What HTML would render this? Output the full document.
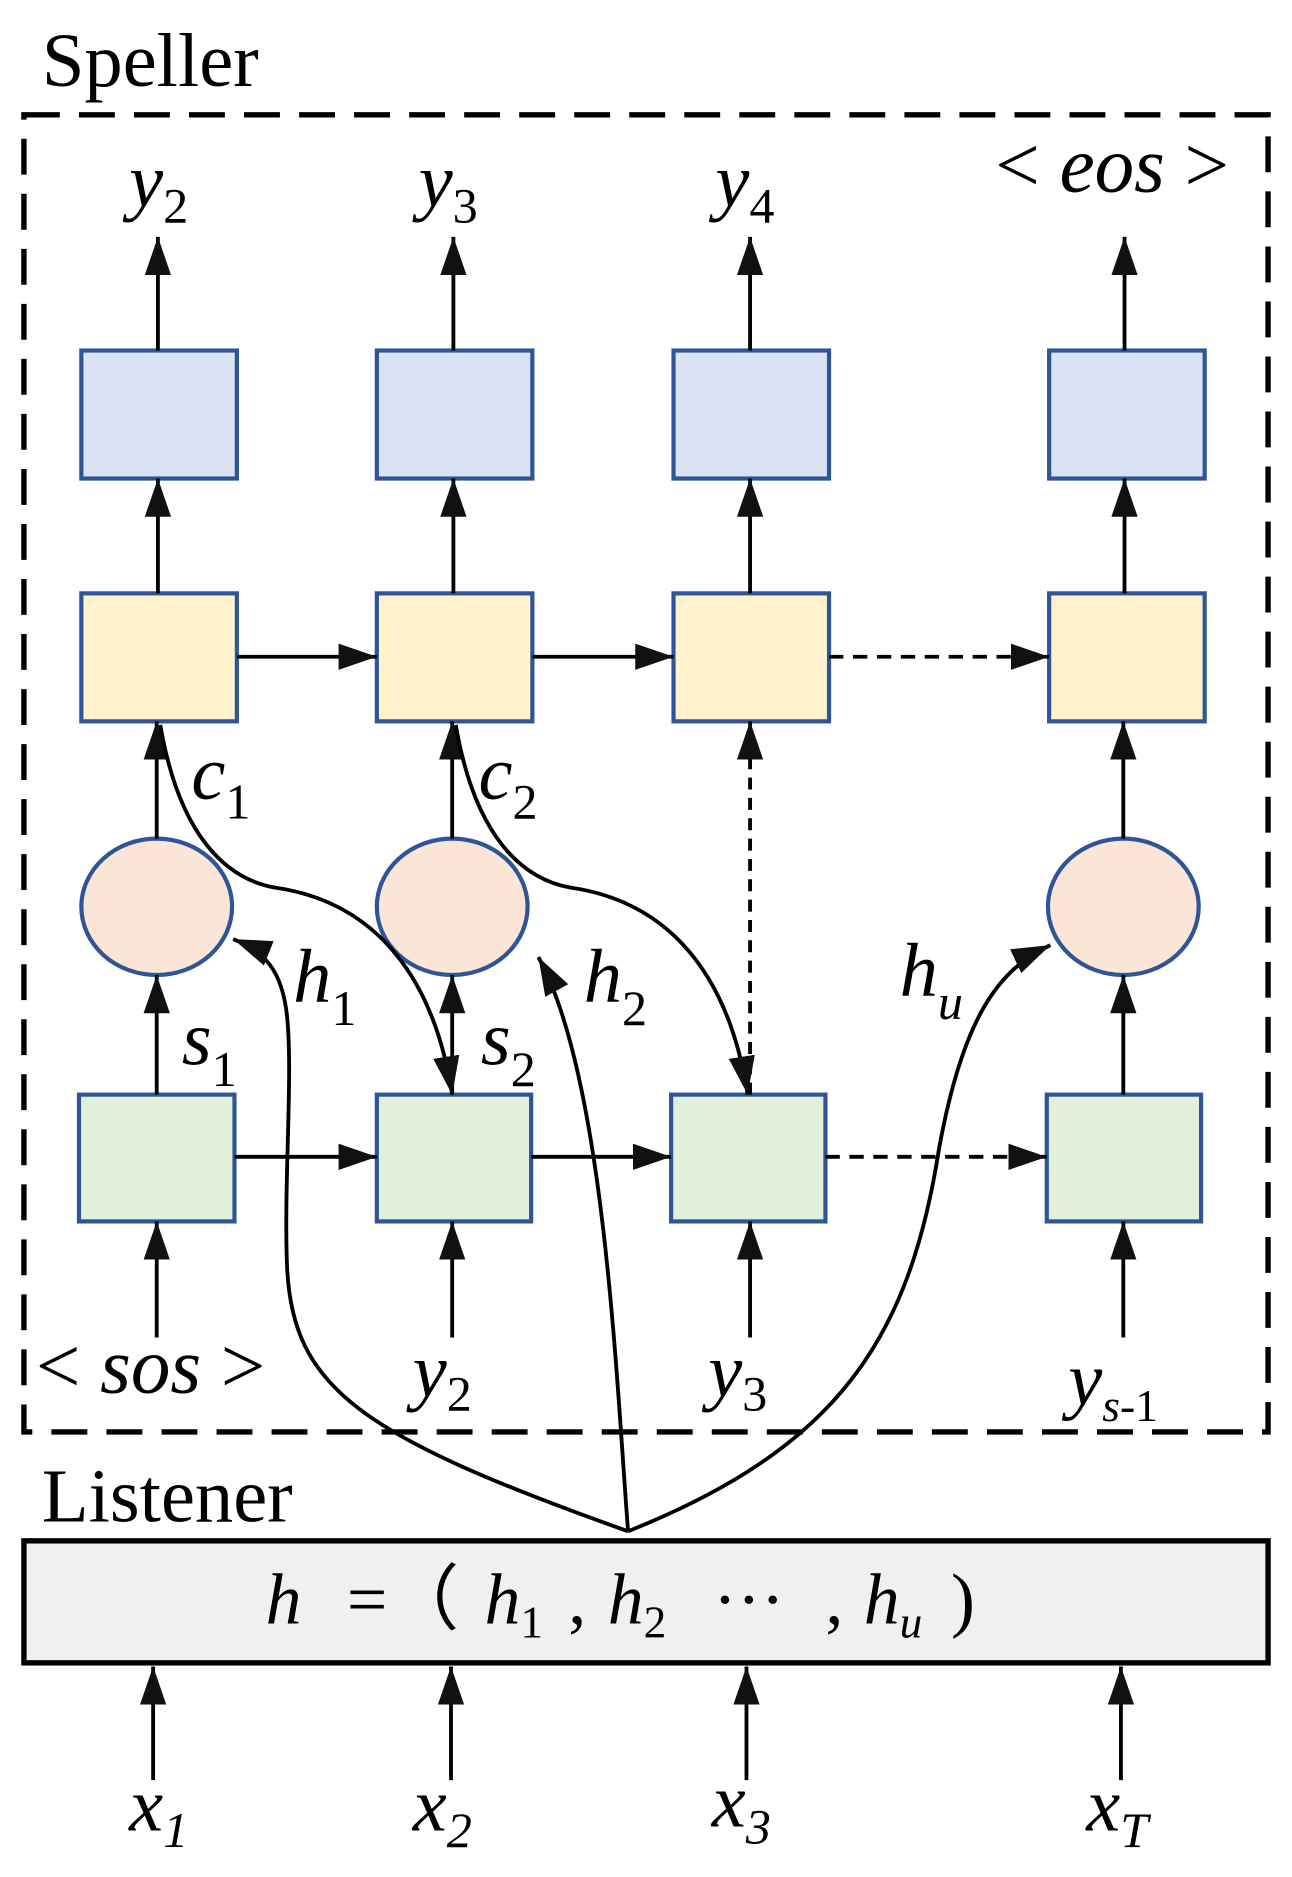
<!DOCTYPE html>
<html><head><meta charset="utf-8"><style>
html,body{margin:0;padding:0;background:#fff;}
svg{display:block;}
text{font-family:"Liberation Serif",serif;fill:#000;}
.m{font-style:italic;}
</style></head><body>
<svg width="1292" height="1877" viewBox="0 0 1080 1569" preserveAspectRatio="none" xmlns="http://www.w3.org/2000/svg">
<defs>
<marker id="a" viewBox="0 0 32 22" refX="32" refY="11" markerWidth="32" markerHeight="22" markerUnits="userSpaceOnUse" orient="auto">
<path d="M0,0 L32,11 L0,22 z" fill="#111"/></marker>
</defs>
<text x="35" y="72" font-size="64">Speller</text>
<rect x="20" y="96" width="1040" height="1101" fill="none" stroke="#000" stroke-width="4.5" stroke-dasharray="30,16"/>
<g stroke="#2f5597" stroke-width="3.5">
<rect x="68" y="293" width="130" height="107" fill="#dae3f3"/>
<rect x="315" y="293" width="130" height="107" fill="#dae3f3"/>
<rect x="563" y="293" width="130" height="107" fill="#dae3f3"/>
<rect x="877" y="293" width="130" height="107" fill="#dae3f3"/>
<rect x="68" y="496" width="130" height="107" fill="#fff2cc"/>
<rect x="315" y="496" width="130" height="107" fill="#fff2cc"/>
<rect x="563" y="496" width="130" height="107" fill="#fff2cc"/>
<rect x="877" y="496" width="130" height="107" fill="#fff2cc"/>
<ellipse cx="131" cy="758" rx="63" ry="57" fill="#fbe5d6"/>
<ellipse cx="378" cy="758" rx="63" ry="57" fill="#fbe5d6"/>
<ellipse cx="939" cy="758" rx="63" ry="57" fill="#fbe5d6"/>
<rect x="66" y="915" width="130" height="106" fill="#e2efda"/>
<rect x="315" y="915" width="129" height="106" fill="#e2efda"/>
<rect x="561" y="915" width="129" height="106" fill="#e2efda"/>
<rect x="875" y="915" width="129" height="106" fill="#e2efda"/>
</g>
<g stroke="#000" stroke-width="3.2" fill="none" marker-end="url(#a)">
<line x1="132" y1="293" x2="132" y2="198"/><line x1="379" y1="293" x2="379" y2="198"/>
<line x1="627" y1="293" x2="627" y2="198"/><line x1="940" y1="293" x2="940" y2="198"/>
<line x1="132" y1="496" x2="132" y2="400"/><line x1="379" y1="496" x2="379" y2="400"/>
<line x1="627" y1="496" x2="627" y2="400"/><line x1="940" y1="496" x2="940" y2="400"/>
<line x1="198" y1="549" x2="315" y2="549"/><line x1="445" y1="549" x2="563" y2="549"/>
<line x1="693" y1="549" x2="877" y2="549" stroke-dasharray="12,8"/>
<line x1="131" y1="701" x2="131" y2="603"/><line x1="378" y1="701" x2="378" y2="603"/>
<line x1="939" y1="701" x2="939" y2="603"/>
<line x1="627" y1="915" x2="627" y2="603" stroke-dasharray="10,7"/>
<line x1="131" y1="915" x2="131" y2="815"/><line x1="378" y1="915" x2="378" y2="815"/>
<line x1="939" y1="915" x2="939" y2="815"/>
<line x1="196" y1="967" x2="315" y2="967"/><line x1="444" y1="967" x2="561" y2="967"/>
<line x1="690" y1="967" x2="875" y2="967" stroke-dasharray="12,8"/>
<line x1="131" y1="1118" x2="131" y2="1021"/><line x1="378" y1="1118" x2="378" y2="1021"/>
<line x1="627" y1="1118" x2="627" y2="1021"/><line x1="939" y1="1118" x2="939" y2="1021"/>
<path d="M134,606 C150,700 190,735 230,742 C300,752 360,800 378,915"/>
<path d="M381,606 C397,700 437,735 477,742 C547,752 607,800 625,915"/>
<path d="M525,1280 C300,1200 245,1160 240,1060 C237,990 245,900 240,850 C236,810 220,795 195,785"/>
<path d="M525,1280 C515,1150 505,900 450,800"/>
<path d="M525,1280 C700,1210 760,1120 785,960 C805,850 835,810 878,790"/>
<line x1="128" y1="1488" x2="128" y2="1393"/><line x1="377" y1="1488" x2="377" y2="1393"/>
<line x1="624" y1="1488" x2="624" y2="1393"/><line x1="937" y1="1488" x2="937" y2="1393"/>
</g>
<g font-size="64">
<text x="108" y="172" class="m">y<tspan font-size="42" dy="14" font-style="normal">2</tspan></text>
<text x="350" y="172" class="m">y<tspan font-size="42" dy="14" font-style="normal">3</tspan></text>
<text x="598" y="172" class="m">y<tspan font-size="42" dy="14" font-style="normal">4</tspan></text>
<text x="832" y="160" font-size="66">&lt; <tspan class="m">eos</tspan> &gt;</text>
<text x="160" y="668" class="m">c<tspan font-size="42" dy="16" font-style="normal">1</tspan></text>
<text x="400" y="668" class="m">c<tspan font-size="42" dy="16" font-style="normal">2</tspan></text>
<text x="245" y="837" class="m">h<tspan font-size="42" dy="20" font-style="normal">1</tspan></text>
<text x="488" y="837" class="m">h<tspan font-size="42" dy="20" font-style="normal">2</tspan></text>
<text x="752" y="832" class="m">h<tspan font-size="42" dy="20">u</tspan></text>
<text x="152" y="890" class="m">s<tspan font-size="42" dy="18" font-style="normal">1</tspan></text>
<text x="402" y="890" class="m">s<tspan font-size="42" dy="18" font-style="normal">2</tspan></text>
<text x="30" y="1164" font-size="66">&lt; <tspan class="m">sos</tspan> &gt;</text>
<text x="345" y="1167" class="m">y<tspan font-size="42" dy="12" font-style="normal">2</tspan></text>
<text x="592" y="1167" class="m">y<tspan font-size="42" dy="12" font-style="normal">3</tspan></text>
<text x="893" y="1174" class="m">y<tspan font-size="38" dy="14">s</tspan><tspan font-size="38" font-style="normal">-1</tspan></text>
<text x="35" y="1272" font-size="64" font-style="normal">Listener</text>
</g>
<rect x="20" y="1288" width="1040" height="102" fill="#f0f0f0" stroke="#000" stroke-width="4.5"/>
<g font-size="60">
<text x="222" y="1357" class="m">h</text>
<text x="290" y="1357">=（</text>
<text x="405" y="1357" class="m">h<tspan font-size="38" dy="12" font-style="normal">1</tspan></text>
<text x="475" y="1357">,</text>
<text x="508" y="1357" class="m">h<tspan font-size="38" dy="12" font-style="normal">2</tspan></text>
<text x="596" y="1357">···</text>
<text x="690" y="1357">,</text>
<text x="722" y="1357" class="m">h<tspan font-size="38" dy="12">u</tspan></text>
<text x="795" y="1357">)</text>
</g>
<g font-size="64">
<text x="108" y="1530" class="m">x<tspan font-size="42" dy="14">1</tspan></text>
<text x="345" y="1530" class="m">x<tspan font-size="42" dy="14">2</tspan></text>
<text x="595" y="1527" class="m">x<tspan font-size="42" dy="14">3</tspan></text>
<text x="908" y="1530" class="m">x<tspan font-size="42" dy="14">T</tspan></text>
</g>
</svg>
</body></html>
